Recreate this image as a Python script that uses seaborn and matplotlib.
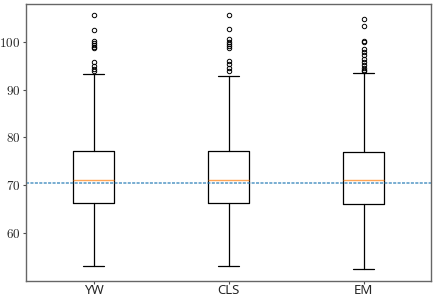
import matplotlib
matplotlib.use("Agg")
import matplotlib.pyplot as plt
import matplotlib.ticker as mticker
import seaborn as sns

# ---- data ----
categories = ["YW", "CLS", "EM"]
whisker_low = [53.2, 53.2, 52.6]
q1 = [66.4, 66.3, 66.1]
median = [71.2, 71.1, 71.1]
q3 = [77.2, 77.1, 77.0]
whisker_high = [93.2, 92.9, 93.5]
fliers = [
    [105.5, 102.5, 100.2, 99.8, 99.4, 99.0, 98.6, 95.8, 95.0, 94.4, 93.9],
    [105.6, 102.7, 100.5, 100.0, 99.5, 99.1, 98.7, 96.0, 95.3, 94.5, 93.9],
    [104.8, 103.3, 100.2, 99.9, 98.4, 97.8, 97.2, 96.5, 95.8, 95.2, 94.6, 94.1, 93.8],
]
reference_value = 70.45
y_ticks = [60, 70, 80, 90, 100]

sns.set_theme(style="white")
plt.rcParams["mathtext.fontset"] = "cm"

fig = plt.figure(figsize=(4.36, 3.0), dpi=100)
ax = fig.add_axes([26 / 436, 19 / 300, 405 / 436, 277 / 300])

stats = []
for i, name in enumerate(categories):
    stats.append(dict(label=name, whislo=whisker_low[i], q1=q1[i], med=median[i],
                      q3=q3[i], whishi=whisker_high[i], fliers=fliers[i]))

ax.bxp(stats, positions=[1, 2, 3], widths=0.3, showfliers=True,
       boxprops=dict(color="black", linewidth=0.9),
       whiskerprops=dict(color="black", linewidth=0.9),
       capprops=dict(color="black", linewidth=0.9),
       medianprops=dict(color="#ff7f0e", linewidth=1.0, alpha=0.7),
       flierprops=dict(marker="o", markersize=3.2, markerfacecolor="none",
                       markeredgecolor="black", markeredgewidth=0.7))

ax.axhline(reference_value, color="#1f77b4", alpha=0.65, linewidth=1.3,
           linestyle=(0, (1.7, 0.75)))

ax.set_xlim(0.5, 3.5)
ax.set_ylim(50.0, 107.9)
ax.set_yticks(y_ticks)
ax.yaxis.set_major_formatter(mticker.FuncFormatter(lambda v, p: f"${v:g}$"))
ax.set_xticks([1, 2, 3])
ax.set_xticklabels(categories, fontfamily="Noto Sans", fontsize=9.5)
for t in ax.get_yticklabels():
    t.set_fontsize(9.5)
ax.tick_params(axis="y", which="major", length=2.5, width=0.8, color="0.3",
               left=True, pad=1.5)
ax.tick_params(axis="x", which="major", length=2, width=0.8, color="0.3",
               bottom=True, pad=0.5)
for s in ax.spines.values():
    s.set_color("0.4")
    s.set_linewidth(1.0)

fig.savefig("out.png", dpi=100)
